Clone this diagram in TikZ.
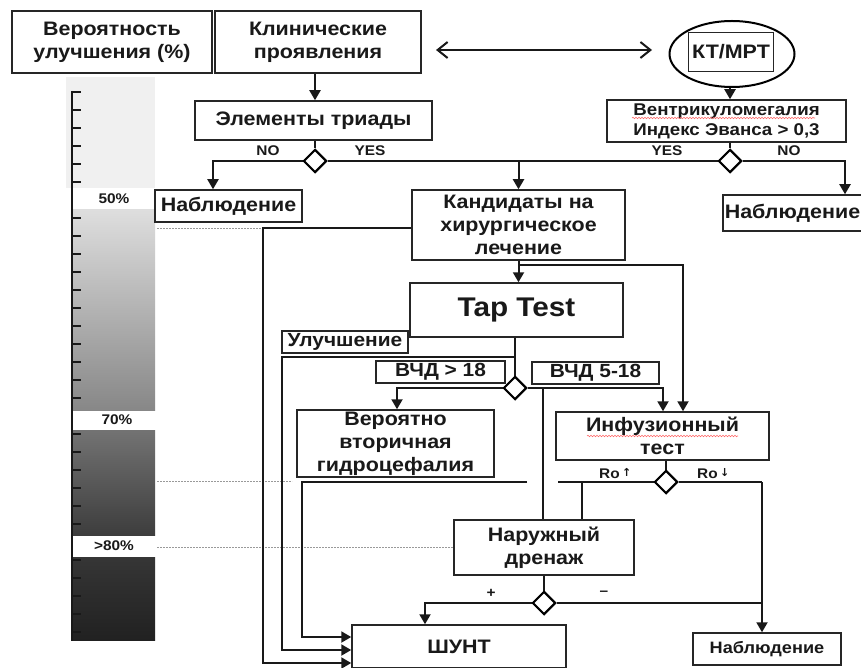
\documentclass[tikz,border=0pt]{standalone}
\usepackage{fontspec}
\setmainfont{Liberation Sans}[FakeStretch=1.1]
\newfontfamily\arrfont{DejaVu Sans}
\usetikzlibrary{arrows.meta,shapes.geometric,decorations.pathmorphing}

\tikzset{
 box/.style={draw=black!85, line width=1.5pt, fill=white, inner sep=0pt, align=center,
   font=\fontsize{19.5}{23}\selectfont\bfseries, text=black!90},
 midbox/.style={box, font=\fontsize{19}{21}\selectfont\bfseries},
 smbox/.style={box, font=\fontsize{16.5}{20}\selectfont\bfseries},
 lbl/.style={inner sep=0pt, font=\fontsize{14}{15}\selectfont\bfseries, text=black!90},
 conn/.style={line width=2pt, draw=black!90},
 arr/.style={conn, -{Triangle[length=10pt,width=11pt]}},
 dia/.style={diamond, draw=black, line width=2pt, fill=white, minimum width=23pt,
   minimum height=23pt, inner sep=0pt},
 guide/.style={draw=black!40, line width=0.8pt, dash pattern=on 2pt off 1pt},
 wavy/.style={draw=red!60, line width=0.6pt, decorate,
   decoration={snake, amplitude=0.7pt, segment length=3pt}},
}

\begin{document}
\begin{tikzpicture}[x=1pt,y=-1pt]
\useasboundingbox (0,0) rectangle (861,668);
\fill[white] (0,0) rectangle (861,668);

% ---------- scale bar ----------
\fill[black!6] (66,77) rectangle (155,188);
\shade[top color=black!13, bottom color=black!47] (72,210) rectangle (155,410);
\shade[top color=black!55, bottom color=black!76] (72,430) rectangle (155,535);
\shade[top color=black!79, bottom color=black!87] (72,557) rectangle (155,640);
\draw[line width=2.5pt, black!90] (72,91) -- (72,641);
\foreach \t in {92,110,128,146,164,182,218,236,254,272,290,308,326,344,362,380,398,
  434,452,470,488,506,524,560,578,596,614,632}
  \draw[line width=1.8pt, black!90] (72,\t) -- (81,\t);
\node[lbl] (p50) at (114,199) {50\%};
\node[lbl] (p70) at (117,420) {70\%};
\node[lbl] (p80) at (114,546) {>80\%};

% ---------- boxes ----------
\node[box, minimum width=200pt, minimum height=62pt] (prob) at (112,42) {Вероятность\\улучшения (\%)};
\node[box, minimum width=206pt, minimum height=62pt] (clin) at (318,42) {Клинические\\проявления};
\node[ellipse, draw=black, line width=2pt, minimum width=125pt, minimum height=66pt] (ct) at (732,54) {};
\node[box, line width=1.5pt, minimum width=85pt, minimum height=39pt] (ctin) at (731,52) {КТ/МРТ};
\node[box, minimum width=237pt, minimum height=39pt] (triad) at (313.5,120.5) {Элементы триады};
\node[box, font=\fontsize{17}{20}\selectfont\bfseries, minimum width=239pt, minimum height=42pt] (vent) at (726.5,121) {Вентрикуломегалия\\Индекс Эванса > 0,3};
\node[box, minimum width=147pt, minimum height=32pt] (obs1) at (228.5,206) {Наблюдение};
\node[box, minimum width=139pt, minimum height=36pt] (obs2) at (792.5,213) {Наблюдение};
\node[box, minimum width=213pt, minimum height=70pt] (cand) at (518.5,225) {Кандидаты на\\хирургическое\\лечение};
\node[box, minimum width=213pt, minimum height=54pt, font=\fontsize{27}{30}\selectfont\bfseries] (tap) at (516.5,310) {Tap Test};
\node[midbox, minimum width=126pt, minimum height=22pt] (imp) at (345,342) {Улучшение};
\node[midbox, minimum width=129pt, minimum height=22pt] (v1) at (440.5,372) {ВЧД > 18};
\node[midbox, minimum width=127pt, minimum height=22pt] (v2) at (595.5,373) {ВЧД 5-18};
\node[box, minimum width=197pt, minimum height=67pt] (sec) at (395.5,443.5) {Вероятно\\вторичная\\гидроцефалия};
\node[box, minimum width=213pt, minimum height=48pt] (inf) at (662.5,436) {Инфузионный\\тест};
\node[box, minimum width=180pt, minimum height=55pt] (drain) at (544,547.5) {Наружный\\дренаж};
\node[box, minimum width=214pt, minimum height=43pt] (shunt) at (459,646.5) {ШУНТ};
\node[smbox, minimum width=148pt, minimum height=32pt] (obs3) at (767,649) {Наблюдение};

% spell-check underlines
\draw[wavy] (632,118) -- (815,118);
\draw[wavy] (587,436) -- (738,436);

% ---------- diamonds ----------
\node[dia] (d1) at (315,161) {};
\node[dia] (d2) at (730,161) {};
\node[dia] (d3) at (515,388) {};
\node[dia] (d4) at (666,482) {};
\node[dia] (d5) at (544,603) {};

% ---------- labels ----------
\node[lbl] (no1) at (268,151) {NO};
\node[lbl] (yes1) at (370,151) {YES};
\node[lbl] (yes2) at (667,151) {YES};
\node[lbl] (no2) at (789,151) {NO};
\node[lbl, anchor=west] (roup) at (599,474) {Ro\,{\arrfont\fontsize{11}{11}\selectfont\raisebox{2pt}{↑}}};
\node[lbl, anchor=west] (rodn) at (697,474) {Ro\,{\arrfont\fontsize{11}{11}\selectfont\raisebox{2pt}{↓}}};
\node[lbl] (plus) at (491,593) {+};
\node[lbl] (minus) at (604,593) {–};

% ---------- coordinates ----------
\coordinate (dl) at (436,50);
\coordinate (dr) at (652,50);
\coordinate (nL) at (213,161);
\coordinate (nR) at (845,161);
\coordinate (kL) at (263,228);
\coordinate (kLb) at (263,663);
\coordinate (tb) at (515,357);
\coordinate (uL) at (282,357);
\coordinate (uLb) at (282,650);
\coordinate (vR) at (527,482);
\coordinate (vL) at (302,482);
\coordinate (vLb) at (302,637);
\coordinate (cb) at (518,265);
\coordinate (cbR) at (683,265);
\coordinate (d3L) at (397,388);
\coordinate (d3R) at (663,388);
\coordinate (d3m) at (543,388);
\coordinate (d4L) at (558,482);
\coordinate (d4R) at (762,482);
\coordinate (d4m) at (582,482);
\coordinate (d5L) at (425,603);
\coordinate (d5R) at (762,603);
\coordinate (g1) at (157,228);
\coordinate (g2) at (157,481);
\coordinate (g2e) at (292,481);
\coordinate (g3) at (157,547);

% ---------- guides ----------
\draw[guide] (g1) -- (kL);
\draw[guide] (g2) -- (g2e);
\draw[guide] (g3) -- (drain.west |- g3);

% ---------- connectors ----------
\draw[conn, {Straight Barb[length=10pt,width=16pt]}-{Straight Barb[length=10pt,width=16pt]}] (dl) -- (dr);
\draw[arr] (d1 |- clin.south) -- (d1 |- triad.north);
\draw[conn] (d1 |- triad.south) -- (d1.north);
\draw[arr] (d1.west) -- (nL) -- (nL |- obs1.north);
\draw[conn] (d1.east) -- (d2.west);
\draw[arr] (cand.north |- d1) -- (cand.north);
\draw[arr] (d2 |- ct.south) -- (d2 |- vent.north);
\draw[conn] (d2 |- vent.south) -- (d2.north);
\draw[arr] (d2.east) -- (nR) -- (nR |- obs2.north);

\draw[arr] (cand.west |- kL) -- (kL) -- (kLb) -- (shunt.west |- kLb);
\draw[arr] (cand.south) -- (cand.south |- tap.north);
\draw[arr] (cb) -- (cbR) -- (cbR |- inf.north);

\draw[conn] (d3 |- tap.south) -- (d3.north);
\draw[arr] (tb) -- (uL) -- (uLb) -- (shunt.west |- uLb);
\draw[arr] (d3.west) -- (d3L) -- (d3L |- sec.north);
\draw[arr] (d3.east) -- (d3R) -- (d3R |- inf.north);
\draw[conn] (d3m) -- (d3m |- drain.north);

\draw[arr] (vR) -- (vL) -- (vLb) -- (shunt.west |- vLb);

\draw[conn] (d4 |- inf.south) -- (d4.north);
\draw[conn] (d4L) -- (d4.west);
\draw[conn] (d4.east) -- (d4R);
\draw[arr] (d4R) -- (d4R |- obs3.north);
\draw[conn] (d4m) -- (d4m |- drain.north);

\draw[conn] (drain.south) -- (d5.north);
\draw[arr] (d5.west) -- (d5L) -- (d5L |- shunt.north);
\draw[conn] (d5.east) -- (d5R);

% redraw diamonds on top
\node[dia] at (d1) {};
\node[dia] at (d2) {};
\node[dia] at (d3) {};
\node[dia] at (d4) {};
\node[dia] at (d5) {};
\end{tikzpicture}
\end{document}
